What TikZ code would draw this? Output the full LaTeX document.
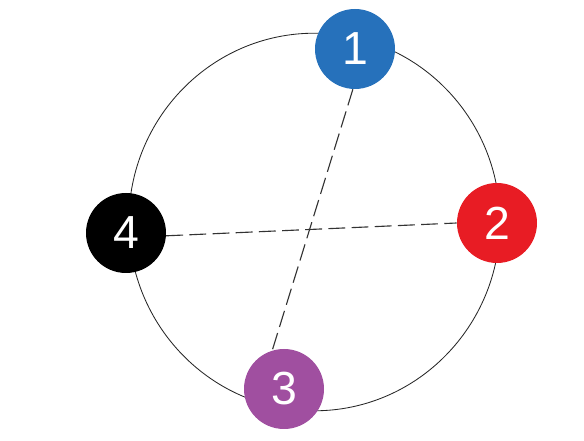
\documentclass[tikz,border=0pt]{standalone}
\usepackage{fontspec}
\setmainfont{Liberation Sans}
\usepackage{xcolor}
\usepackage{tikz}
\definecolor{kblue}{HTML}{2671BB}
\definecolor{kred}{HTML}{E81C24}
\definecolor{kpurple}{HTML}{A04FA0}

\begin{document}
\begin{tikzpicture}[x=1cm, y=1cm,
  dot/.style={circle, fill=#1, minimum size=2cm, inner sep=0pt, text=white,
    font=\fontsize{33}{33}\selectfont},
  link/.style={dash pattern=on 12pt off 4.5pt, line width=0.8pt, black!80}]
\useasboundingbox (0,0) rectangle (14.6,11.025);
\draw[black!85, line width=0.6pt] (7.86,5.475) ellipse (4.64 and 4.72);
\node[dot=kblue] (n1) at (8.875,9.8) {1};
\node[dot=kred] (n2) at (12.425,5.45) {2};
\node[dot=kpurple] (n3) at (7.1,1.3) {3};
\node[dot=black] (n4) at (3.15,5.2) {4};
\draw[link] (n1.-93) -- (n3.107);
\draw[link] (n4.-4) -- (n2.180);
\end{tikzpicture}
\end{document}
